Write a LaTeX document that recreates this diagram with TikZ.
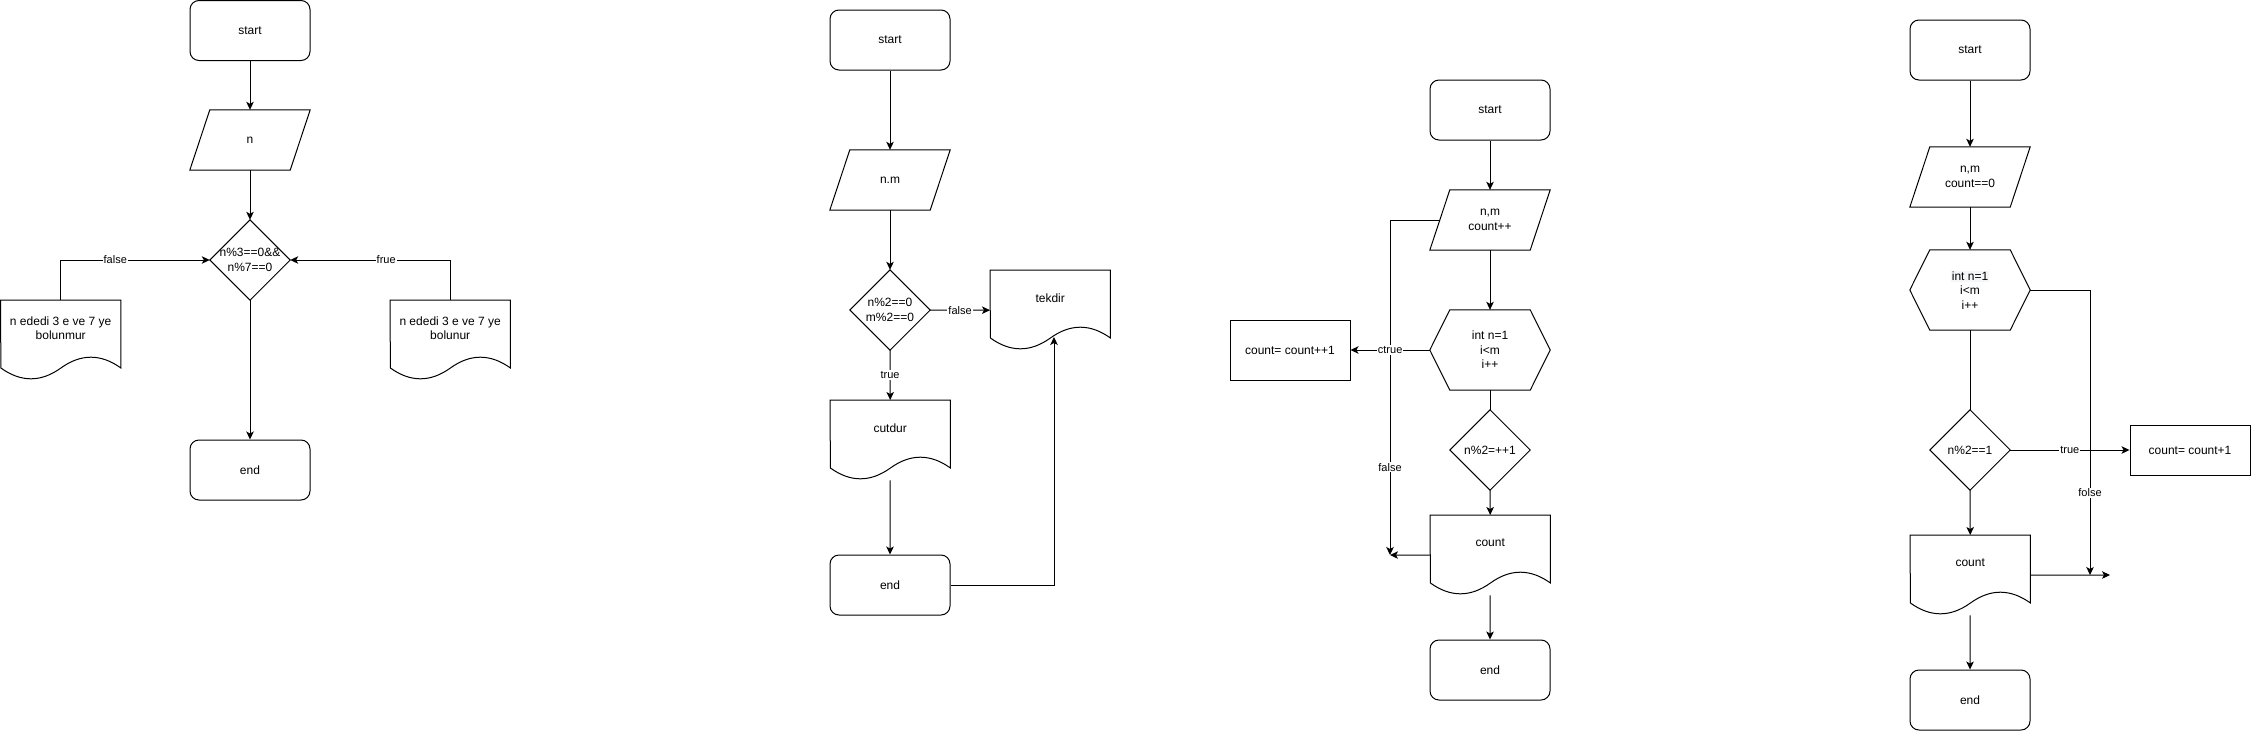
\documentclass[tikz,border=0pt]{standalone}
\usepackage{fontspec}
\setmainfont{Liberation Sans}
\usetikzlibrary{arrows.meta,calc}
\definecolor{hlbg}{RGB}{245,246,248}
\newcommand\hlline[1]{{\setlength{\fboxsep}{1pt}\colorbox{hlbg}{#1}}}
\tikzset{
  ln/.style={line width=1pt, draw=black},
  arr/.style={ln, -{Stealth[length=8pt, width=7.5pt, inset=2pt]}},
  txt/.style={font=\fontsize{12}{14.4}\selectfont, align=center, inner sep=0pt, text=black},
  term/.style={txt, draw, line width=1pt, rounded corners=9pt, minimum width=120pt, minimum height=60pt},
  procbox/.style={txt, draw, line width=1pt, minimum width=120pt},
  hold/.style={txt, minimum width=120pt},
  elabel/.style={font=\fontsize{11}{13}\selectfont, fill=white, inner sep=1pt, text=black},
}
\newcommand\parashape[5]{%
  \node[hold, minimum height=#4pt] (#1) at (#2,#3) {#5};
  \draw[ln] ([xshift=20pt]#1.north west) -- (#1.north east) -- ([xshift=-20pt]#1.south east) -- (#1.south west) -- cycle;}
\newcommand\hexshape[5]{%
  \node[hold, minimum height=#4pt] (#1) at (#2,#3) {#5};
  \draw[ln] (#1.west) -- ([xshift=20pt]#1.north west) -- ([xshift=-20pt]#1.north east) -- (#1.east) -- ([xshift=-20pt]#1.south east) -- ([xshift=20pt]#1.south west) -- cycle;}
\newcommand\diashape[4]{%
  \node[txt, minimum width=80pt, minimum height=80pt] (#1) at (#2,#3) {#4};
  \draw[ln] (#1.north) -- (#1.east) -- (#1.south) -- (#1.west) -- cycle;}
\newcommand\docshape[4]{%
  \node[hold, minimum height=80pt, anchor=north west, label={[txt, anchor=center, yshift=-28pt]north:{#4}}] (#1) at (#2,#3) {};
  \draw[ln] (#1.north west) -- (#1.north east) -- ++(0,68) .. controls +(-20,-14.4) and +(20,-14.4) .. ++(-60,0) .. controls +(-20,14.4) and +(20,14.4) .. ++(-60,0) -- cycle;}
\begin{document}
\begin{tikzpicture}[x=1pt, y=-1pt]
\useasboundingbox (0,0) rectangle (2251,731);
% ---------- diagram 1 ----------
\node[term] (s1) at (250,30.5) {start};
\parashape{p1}{250}{140}{60}{n}
\diashape{d1}{250}{260}{n\%3==0\&\&\\n\%7==0}
\node[term] (e1) at (250,470) {end};
\docshape{l1}{0.5}{300}{n ededi 3 e ve 7 ye\\bolunmur}
\docshape{r1}{390}{300}{n ededi 3 e ve 7 ye\\bolunur}
\draw[arr] (s1.south) -- (p1.north);
\draw[arr] (p1.south) -- (d1.north);
\draw[arr] (d1.south) -- (e1.north);
\draw[arr] (l1.north) |- (d1.west) node[elabel, pos=0.683] {false};
\draw[arr] (r1.north) |- (d1.east) node[elabel, pos=0.7] {frue};
% ---------- diagram 2 ----------
\node[term] (s2) at (890,40) {start};
\parashape{p2}{890}{180}{60}{n.m}
\diashape{d2}{890}{310}{n\%2==0\\m\%2==0}
\docshape{tk}{990}{270}{tekdir}
\docshape{cd}{830}{400}{cutdur}
\node[term] (e2) at (890,585) {end};
\coordinate (tkw) at ([xshift=64pt, yshift=-67pt]tk.north west);
\draw[arr] (s2.south) -- (p2.north);
\draw[arr] (p2.south) -- (d2.north);
\draw[arr] (d2.east) -- (tk.west) node[elabel, midway] {false};
\draw[arr] (d2.south) -- (cd.north) node[elabel, midway] {true};
\draw[arr] (cd.south) -- (e2.north);
\draw[arr] (e2.east) -| (tkw);
% ---------- diagram 3 ----------
\node[term] (s3) at (1490,110) {start};
\parashape{p3}{1490}{220}{60}{n,m\\count++}
\hexshape{h3}{1490}{350}{80}{int n=1\\i<m\\i++}
\diashape{d3}{1490}{450}{n\%2=++1}
\docshape{c3}{1430}{515}{count}
\node[term] (e3) at (1490,670) {end};
\node[procbox, minimum height=60pt] (r3) at (1290,350) {count= count++1};
\coordinate (j3) at (1390,555);
\draw[arr] (s3.south) -- (p3.north);
\draw[arr] (p3.south) -- (h3.north);
\draw[ln] (h3.south) -- (d3.north);
\draw[arr] (d3.south) -- (c3.north);
\draw[arr] (c3.south) -- (e3.north);
\draw[arr] ([xshift=10pt]p3.west) -| (j3) node[elabel, pos=0.869] {false};
\draw[arr] (h3.west) -- (r3.east) node[elabel, midway] {ctrue};
\draw[arr] (c3.west) -- (j3);
% ---------- diagram 4 ----------
\node[term] (s4) at (1970,50) {start};
\parashape{p4}{1970}{177}{60}{n,m\\count==0}
\hexshape{h4}{1970}{290}{80}{\hlline{int n=1}\\i<m\\i++}
\diashape{d4}{1970}{450}{n\%2==1}
\docshape{c4}{1910}{535}{count}
\node[term] (e4) at (1970,700) {end};
\node[procbox, minimum height=50pt] (r4) at (2190,450) {count= count+1};
\coordinate (j4) at (2090,575);
\coordinate (j4e) at (2110,575);
\draw[arr] (s4.south) -- (p4.north);
\draw[arr] (p4.south) -- (h4.north);
\draw[ln] (h4.south) -- (d4.north);
\draw[arr] (d4.south) -- (c4.north);
\draw[arr] (c4.south) -- (e4.north);
\draw[arr] (h4.east) -| (j4) node[elabel, pos=0.856] {folse};
\draw[arr] (d4.east) -- (r4.west) node[elabel, midway] {true};
\draw[arr] (c4.east) -- (j4e);
\end{tikzpicture}
\end{document}
